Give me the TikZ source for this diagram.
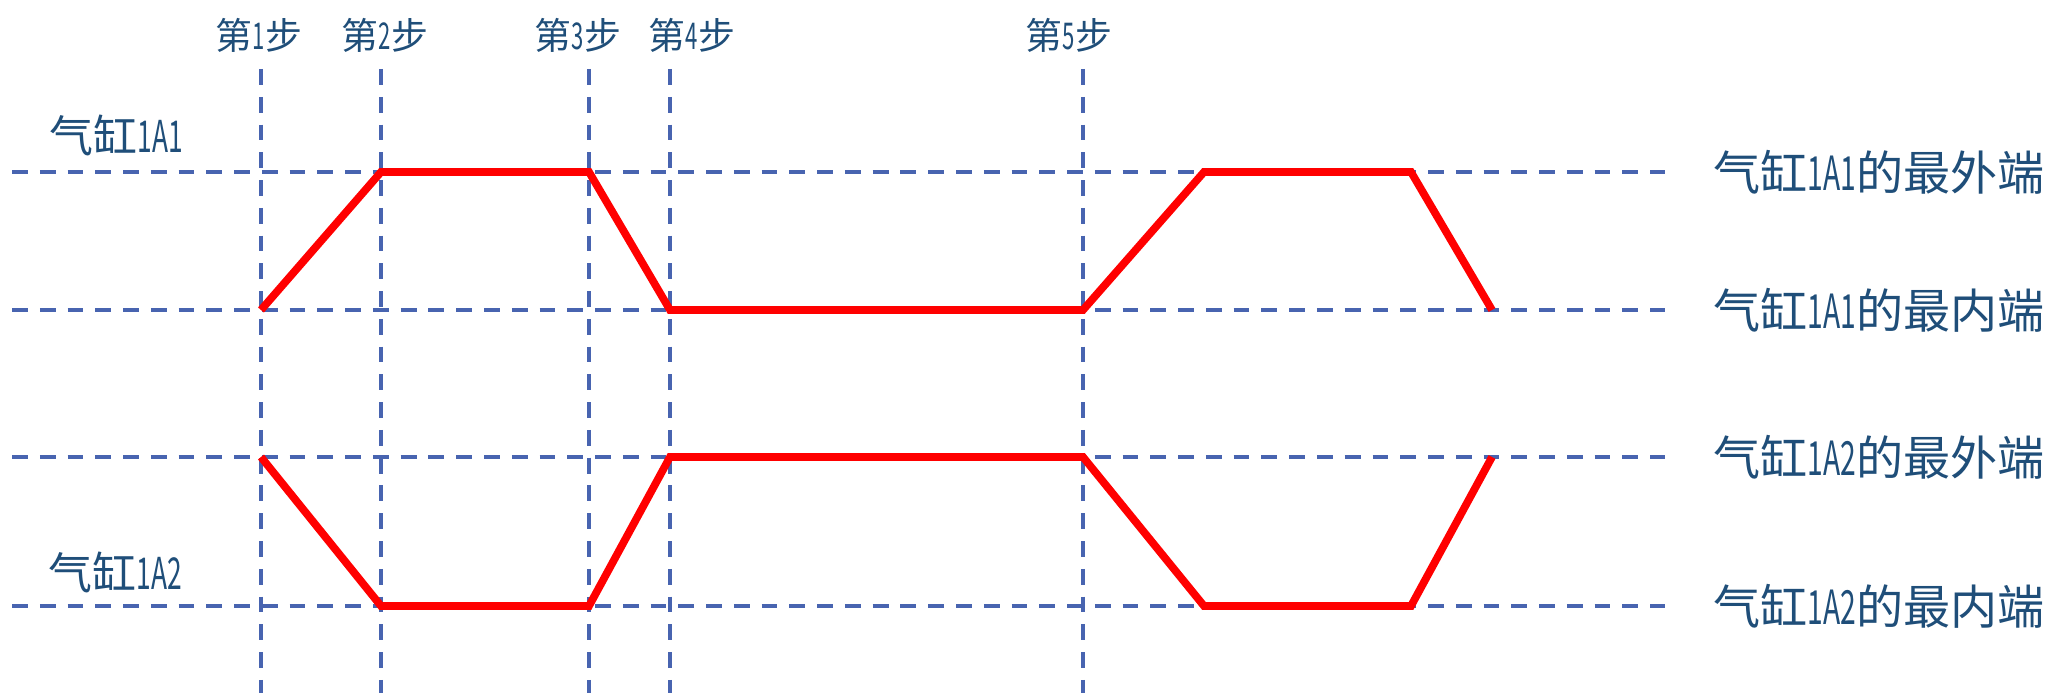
\documentclass[tikz,border=0pt]{standalone}
\usepackage{fontspec}
\usepackage{graphicx}
\newfontfamily\cjk{Noto Sans CJK SC}
\usetikzlibrary{positioning}
\definecolor{gridblue}{RGB}{72,100,176}
\definecolor{lblblue}{RGB}{31,78,121}
\definecolor{tracered}{RGB}{255,0,0}
\newcommand{\nr}[1]{\scalebox{0.6}[1]{#1}}
\tikzset{
    gridline/.style = {draw=gridblue,
                    line width=1.3pt,
                    dash pattern=on 4.5pt off 3.4pt},
    cyl/.style =    {draw=tracered,
                    line width=2.2pt,
                    line join=miter},
    steplbl/.style = {text=lblblue,
                    inner sep=0pt,
                    font=\cjk\fontsize{10.5}{12}\selectfont},
    cyllbl/.style = {text=lblblue,
                    inner sep=0pt,
                    anchor=west,
                    font=\cjk\fontsize{12.5}{14}\selectfont},
    endlbl/.style = {text=lblblue,
                    inner sep=0pt,
                    anchor=west,
                    font=\cjk\fontsize{13.4}{15}\selectfont}}
\begin{document}
\begin{tikzpicture}[x=0.1mm,y=-0.1mm]
                    \useasboundingbox (0,0) rectangle (2053,693);
                    % step lines
                    \coordinate (s1t) at (261,69);   \coordinate (s1b) at (261,693);
                    \coordinate (s2t) at (381,69);   \coordinate (s2b) at (381,693);
                    \coordinate (s3t) at (589,69);   \coordinate (s3b) at (589,693);
                    \coordinate (s4t) at (670,69);   \coordinate (s4b) at (670,693);
                    \coordinate (s5t) at (1083,69);  \coordinate (s5b) at (1083,693);
                    % levels
                    \coordinate (l1w) at (12,172);   \coordinate (l1e) at (1665,172);
                    \coordinate (l2w) at (12,310);   \coordinate (l2e) at (1665,310);
                    \coordinate (l3w) at (12,457);   \coordinate (l3e) at (1665,457);
                    \coordinate (l4w) at (12,606);   \coordinate (l4e) at (1665,606);
                    % second stroke
                    \coordinate (r1) at (1204,0);
                    \coordinate (r2) at (1411,0);
                    \coordinate (r3) at (1492,0);

                    \draw [gridline]    (l1w) -- (l1e)  (l2w) -- (l2e)
                                        (l3w) -- (l3e)  (l4w) -- (l4e);
                    \draw [gridline]    (s1t) -- (s1b)  (s2t) -- (s2b)  (s3t) -- (s3b)
                                        (s4t) -- (s4b)  (s5t) -- (s5b);

                    \draw [cyl] (s1t |- l2w) -- (s2t |- l1w) -- (s3t |- l1w) -- (s4t |- l2w)
                                -- (s5t |- l2w) -- (r1 |- l1w) -- (r2 |- l1w) -- (r3 |- l2w);
                    \draw [cyl] (s1t |- l3w) -- (s2t |- l4w) -- (s3t |- l4w) -- (s4t |- l3w)
                                -- (s5t |- l3w) -- (r1 |- l4w) -- (r2 |- l4w) -- (r3 |- l3w);

                    \node[steplbl]  (st1) at (259,35)   {第\nr{1}步};
                    \node[steplbl]  (st2) at (385,35)   {第\nr{2}步};
                    \node[steplbl]  (st3) at (578,35)   {第\nr{3}步};
                    \node[steplbl]  (st4) at (692,35)   {第\nr{4}步};
                    \node[steplbl]  (st5) at (1069,35)  {第\nr{5}步};

                    \node[cyllbl]   (c1) at (49,135)    {气缸\nr{1A1}};
                    \node[cyllbl]   (c2) at (48,572)    {气缸\nr{1A2}};

                    \node[endlbl]   (e1) at (1713,172)  {气缸\nr{1A1}的最外端};
                    \node[endlbl]   (e2) at (1713,310)  {气缸\nr{1A1}的最内端};
                    \node[endlbl]   (e3) at (1713,457)  {气缸\nr{1A2}的最外端};
                    \node[endlbl]   (e4) at (1713,606)  {气缸\nr{1A2}的最内端};
\end{tikzpicture}
\end{document}
